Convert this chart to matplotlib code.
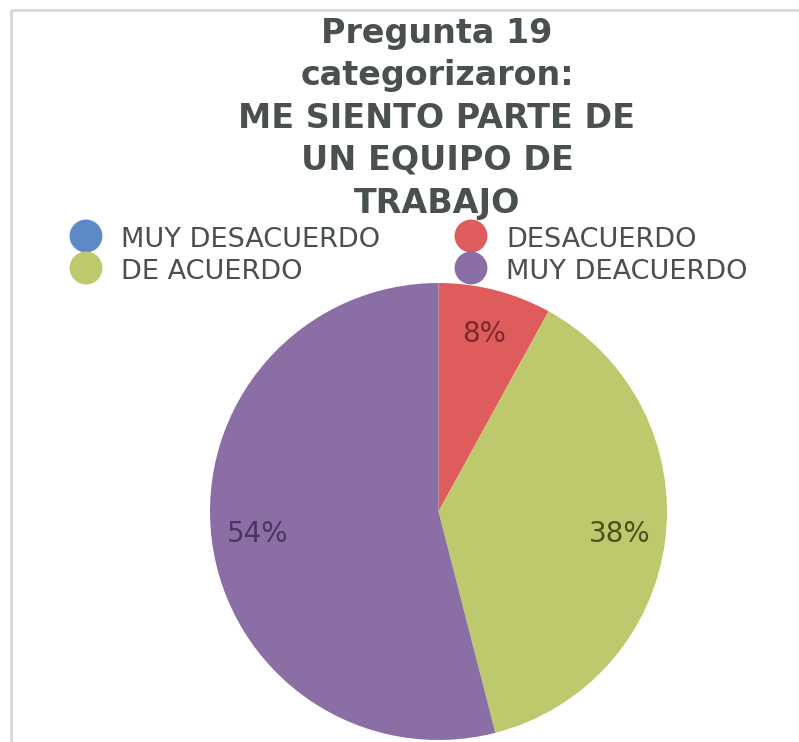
import matplotlib.pyplot as plt
from matplotlib.patches import Rectangle

# Survey answers for question 19
categories = ["MUY DESACUERDO", "DESACUERDO", "DE ACUERDO", "MUY DEACUERDO"]
percentages = [0, 8, 38, 54]
colors = ["#5b8ac6", "#df5c5c", "#bec86c", "#8c6ea6"]
label_colors = ["#2a3f60", "#7a2a2a", "#4a5020", "#4a3560"]

title_lines = ["Pregunta 19", "categorizaron:", "ME SIENTO PARTE DE", "UN EQUIPO DE", "TRABAJO"]
text_color = "#4a4f4f"

W, H = 799, 742
fig = plt.figure(figsize=(W / 100, H / 100), dpi=100)
fig.patch.set_facecolor("white")

# overlay in pixel coordinates for frame, title and legend
over = fig.add_axes([0, 0, 1, 1])
over.set_xlim(0, W)
over.set_ylim(H, 0)
over.axis("off")
over.add_patch(Rectangle((11, 10), W, H, fill=False, edgecolor="#d8d8d8", linewidth=2))

baselines = [43, 85, 128, 170, 213]
for line, yb in zip(title_lines, baselines):
    over.text(437, yb, line, ha="center", va="baseline", fontsize=24,
              fontweight="bold", color=text_color)

# legend: two columns, column-wise order
legend_pos = {
    "MUY DESACUERDO": (86, 236),
    "DE ACUERDO": (86, 268),
    "DESACUERDO": (471, 236),
    "MUY DEACUERDO": (471, 268),
}
for cat, col in zip(categories, colors):
    x, y = legend_pos[cat]
    over.scatter([x], [y], s=560, color=col, edgecolors="none")
    over.text(x + 35, y + 11, cat, ha="left", va="baseline", fontsize=19.5,
              color=text_color)

# pie
cx, cy, r = 438.5, 511.5, 228.5
ax = fig.add_axes([(cx - r) / W, (H - cy - r) / H, 2 * r / W, 2 * r / H])


def fmt(p):
    return f"{p:.0f}%" if p > 0 else ""


wedges, _, autotexts = ax.pie(percentages, colors=colors, startangle=90,
                              counterclock=False, autopct=fmt,
                              pctdistance=0.8, radius=1,
                              wedgeprops=dict(linewidth=0),
                              textprops=dict(fontsize=20))
for t, c in zip(autotexts, label_colors):
    t.set_color(c)
ax.set_xlim(-1, 1)
ax.set_ylim(-1, 1)
ax.set_aspect("auto")
ax.axis("off")

fig.savefig("out.png", dpi=100)
